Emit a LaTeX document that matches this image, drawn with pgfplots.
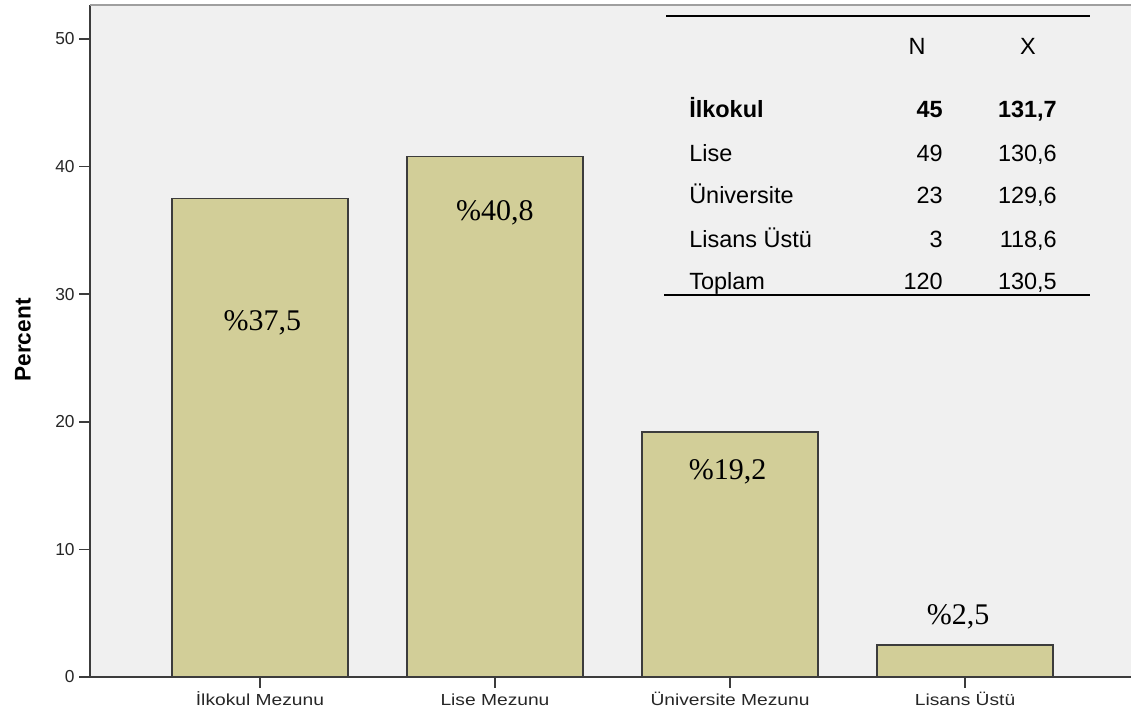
\documentclass[border=0pt]{standalone}
\usepackage{pgfplots}
\pgfplotsset{compat=1.18}
\usepackage{fontspec}
\setmainfont{Liberation Sans}
\newfontfamily\seriffont{Liberation Serif}
\definecolor{barfill}{HTML}{D2CE98}
\definecolor{bgc}{HTML}{F0F0F0}
\definecolor{edge}{HTML}{3C3C3C}
\begin{document}
\begin{tikzpicture}
\useasboundingbox (-67.5pt,-27pt) rectangle (780.75pt,507.75pt);
\begin{axis}[
  at={(0pt,0pt)}, anchor=south west,
  width=780.75pt, height=504pt, scale only axis,
  xmin=-0.723, xmax=3.706, ymin=0, ymax=52.66,
  enlargelimits=false,
  axis background/.style={fill=bgc},
  axis x line*=bottom, axis y line*=left,
  axis line style={edge, line width=1.5pt},
  ytick={0,10,...,50},
  xtick={0,1,2,3},
  xticklabels={İlkokul Mezunu, Lise Mezunu, Üniversite Mezunu, Lisans Üstü},
  tick align=outside, major tick length=8pt,
  tick style={edge, line width=1.2pt},
  /pgf/number format/assume math mode=true,
  yticklabel style={font=\fontsize{13}{14}\selectfont, text=black!85},
  xticklabel style={font=\fontsize{12}{13}\selectfont, text=black!85, xscale=1.2, text height=0.95em, text depth=0.25em},
  ybar, bar width=132pt, bar shift=0pt,
]
\addplot[fill=barfill, draw=edge, line width=1.2pt] coordinates {(0,37.5) (1,40.8) (2,19.2) (3,2.5)};
\node[font=\seriffont\fontsize{22.5}{24}\selectfont, anchor=base, inner sep=0pt] at (axis cs:0.01,27.19) {\%37,5};
\node[font=\seriffont\fontsize{22.5}{24}\selectfont, anchor=base, inner sep=0pt] at (axis cs:1.0,35.8) {\%40,8};
\node[font=\seriffont\fontsize{22.5}{24}\selectfont, anchor=base, inner sep=0pt] at (axis cs:1.99,15.44) {\%19,2};
\node[font=\seriffont\fontsize{22.5}{24}\selectfont, anchor=base, inner sep=0pt] at (axis cs:2.97,4.08) {\%2,5};
\end{axis}
\begin{scope}[shift={(-67.5pt,507.75pt)}, x=0.75pt, y=-0.75pt]
  \draw[gray!75, line width=2pt] (90,5) -- (1131,5);
  \node[rotate=90, font=\bfseries\fontsize{17}{18}\selectfont, inner sep=0pt] at (23,340) {Percent};
  \draw[line width=1.5pt] (666,16) -- (1090,16);
  \draw[line width=1.5pt] (664,295) -- (1090,295);
  \begin{scope}[every node/.style={inner sep=0pt, font=\fontsize{17.6}{19}\selectfont}]
    \node[anchor=base] at (917,55) {N};
    \node[anchor=base] at (1028,55) {X};
    \node[anchor=base west] at (689,118) {\bfseries İlkokul};
    \node[anchor=base east] at (943,118) {\bfseries 45};
    \node[anchor=base east] at (1057,118) {\bfseries 131,7};
    \node[anchor=base west] at (689,162) {Lise};
    \node[anchor=base east] at (943,162) {49};
    \node[anchor=base east] at (1057,162) {130,6};
    \node[anchor=base west] at (689,204) {Üniversite};
    \node[anchor=base east] at (943,204) {23};
    \node[anchor=base east] at (1057,204) {129,6};
    \node[anchor=base west] at (689,248) {Lisans Üstü};
    \node[anchor=base east] at (943,248) {3};
    \node[anchor=base east] at (1057,248) {118,6};
    \node[anchor=base west] at (689,290) {Toplam};
    \node[anchor=base east] at (943,290) {120};
    \node[anchor=base east] at (1057,290) {130,5};
  \end{scope}
\end{scope}
\end{tikzpicture}
\end{document}
